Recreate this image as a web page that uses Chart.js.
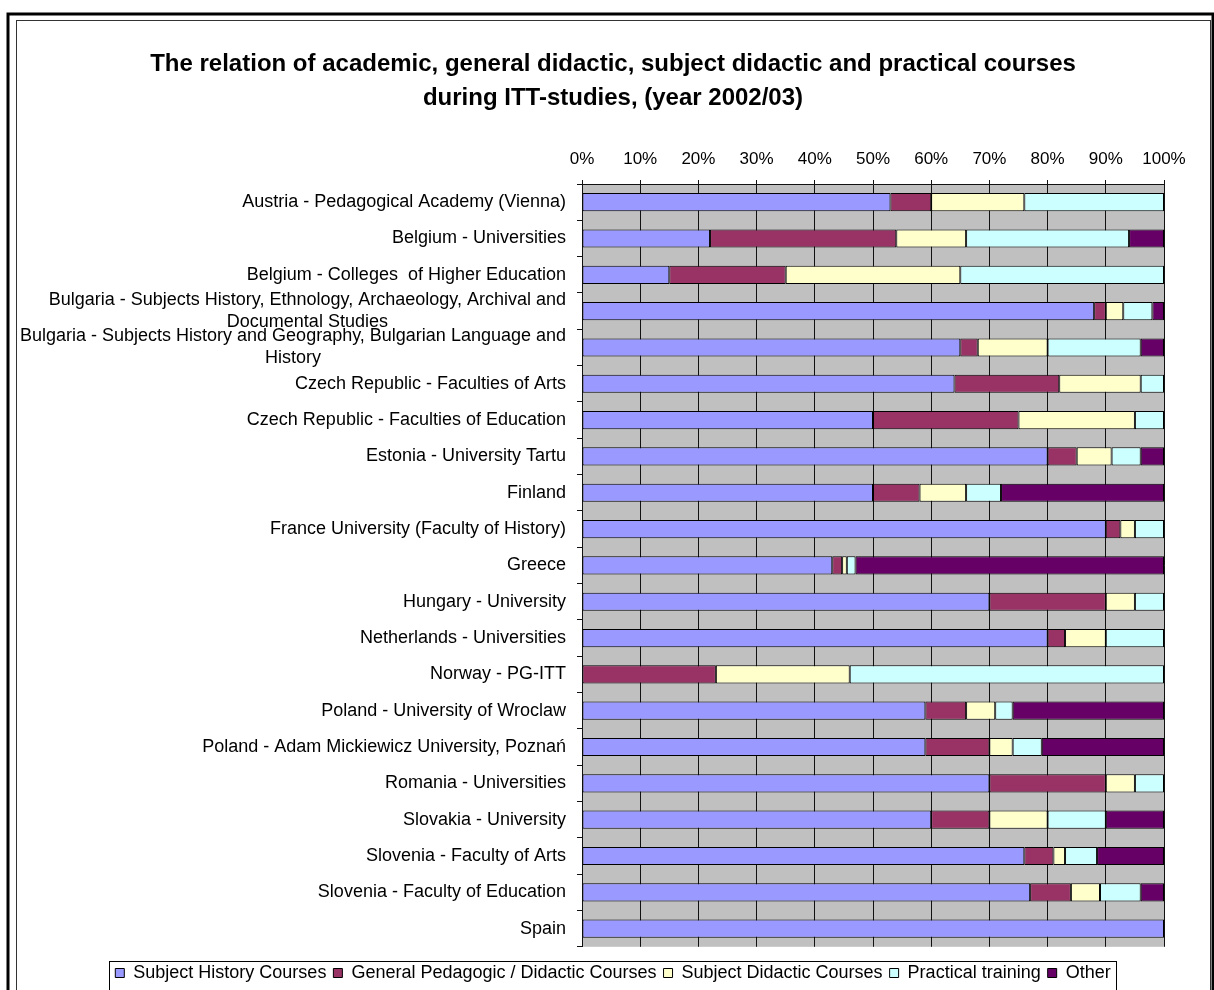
<!DOCTYPE html>
<html>
<head>
<meta charset="utf-8">
<script src="https://cdn.jsdelivr.net/npm/chart.js@4.4.1/dist/chart.umd.min.js"></script>
<style>
html,body{margin:0;padding:0;background:#fff;}
#wrap{width:1214px;height:990px;position:relative;}
</style>
</head>
<body>
<div id="wrap"><canvas id="c" width="1214" height="990"></canvas></div>
<script>
const titleLines = [
  'The relation of academic, general didactic, subject didactic and practical courses',
  'during ITT-studies, (year 2002/03)'
];
const categories = [
  'Austria - Pedagogical Academy (Vienna)',
  'Belgium - Universities',
  'Belgium - Colleges  of Higher Education',
  ['Bulgaria - Subjects History, Ethnology, Archaeology, Archival and', 'Documental Studies'],
  ['Bulgaria - Subjects History and Geography, Bulgarian Language and', 'History'],
  'Czech Republic - Faculties of Arts',
  'Czech Republic - Faculties of Education',
  'Estonia - University Tartu',
  'Finland',
  'France University (Faculty of History)',
  'Greece',
  'Hungary - University',
  'Netherlands - Universities',
  'Norway - PG-ITT',
  'Poland - University of Wroclaw',
  'Poland - Adam Mickiewicz University, Poznań',
  'Romania - Universities',
  'Slovakia - University',
  'Slovenia - Faculty of Arts',
  'Slovenia - Faculty of Education',
  'Spain'
];
const seriesNames = ['Subject History Courses', 'General Pedagogic / Didactic Courses', 'Subject Didactic Courses', 'Practical training', 'Other'];
const subjectHistory    = [53, 22, 15, 88, 65, 64, 50, 80, 50, 90,  43,  70, 80,  0, 59, 59, 70, 60, 76,   77, 100];
const generalPedagogic  = [ 7, 32, 20,  2,  3, 18, 25,  5,  8, 2.5, 1.7, 20,  3, 23,  7, 11, 20, 10,  5,    7,   0];
const subjectDidactic   = [16, 12, 30,  3, 12, 14, 20,  6,  8, 2.5, 0.8,  5,  7, 23,  5,  4,  5, 10,  2,    5,   0];
const practicalTraining = [24, 28, 35,  5, 16,  4,  5,  5,  6,  5,  1.5,  5, 10, 54,  3,  5,  5, 10,  5.5,  7,   0];
const other             = [ 0,  6,  0,  2,  4,  0,  0,  4, 28,  0,  53,   0,  0,  0, 26, 21,  0, 10, 11.5,  4,   0];
const percentTicks = [0, 10, 20, 30, 40, 50, 60, 70, 80, 90, 100];

const seriesValues = [subjectHistory, generalPedagogic, subjectDidactic, practicalTraining, other];
const seriesColors = ['#9999FF', '#993366', '#FFFFCC', '#CCFFFF', '#660066'];
const FONT = '"Liberation Sans", Arial, sans-serif';

const framePlugin = {
  id: 'frame',
  beforeDraw(chart) {
    const ctx = chart.ctx, a = chart.chartArea;
    ctx.save();
    ctx.fillStyle = '#fff';
    ctx.fillRect(0, 0, chart.width, chart.height);
    ctx.strokeStyle = '#000';
    ctx.lineWidth = 3;
    ctx.strokeRect(8, 14, 1205, 1000);
    ctx.lineWidth = 1;
    ctx.strokeStyle = '#333';
    ctx.strokeRect(16.5, 20.5, 1194, 1000);
    ctx.fillStyle = '#C0C0C0';
    ctx.fillRect(a.left, a.top, a.right - a.left, a.bottom - a.top);
    ctx.restore();
  },
  afterDraw(chart) {
    const ctx = chart.ctx;
    const yScale = chart.scales.y;
    ctx.save();
    ctx.font = '18px ' + FONT;
    ctx.fillStyle = '#000';
    ctx.textBaseline = 'middle';
    ctx.textAlign = 'center';
    const right = chart.chartArea.left - 16;
    categories.forEach((lab, i) => {
      const y = yScale.getPixelForValue(i);
      const lines = Array.isArray(lab) ? lab : [lab];
      const w = Math.max(...lines.map(l => ctx.measureText(l).width));
      const cx = right - w / 2;
      lines.forEach((l, k) => ctx.fillText(l, cx, y + (k - (lines.length - 1) / 2) * 22));
    });
    // legend border
    const hb = chart.legend.legendHitBoxes;
    if (hb && hb.length) {
      const l = Math.min(...hb.map(b => b.left));
      const r = Math.max(...hb.map(b => b.left + b.width));
      const t = Math.min(...hb.map(b => b.top));
      const bt = Math.max(...hb.map(b => b.top + b.height));
      const cy = (t + bt) / 2;
      ctx.strokeStyle = '#000';
      ctx.lineWidth = 1;
      ctx.strokeRect(Math.round(l - 6) + 0.5, Math.round(cy - 12) + 0.5, Math.round(r - l + 12), 29);
    }
    ctx.restore();
  }
};

new Chart(document.getElementById('c'), {
  type: 'bar',
  data: {
    labels: categories,
    datasets: seriesValues.map((vals, i) => ({
      label: seriesNames[i],
      data: vals,
      backgroundColor: seriesColors[i],
      borderColor: '#000',
      borderWidth: 1,
      borderSkipped: false,
      categoryPercentage: 1,
      barPercentage: 0.5
    }))
  },
  options: {
    indexAxis: 'y',
    responsive: false,
    animation: false,
    layout: { padding: { left: 62, right: 50, top: 20, bottom: -2 } },
    plugins: {
      tooltip: { enabled: false },
      title: {
        display: true,
        text: titleLines,
        color: '#000',
        font: { family: FONT, size: 24, weight: 'bold', lineHeight: 1.417 },
        padding: { top: 27, bottom: 8 }
      },
      legend: {
        position: 'bottom',
        title: { display: true, text: ' ', font: { size: 1 }, padding: { top: 9, bottom: 0 } },
        labels: {
          boxWidth: 9,
          boxHeight: 9,
          padding: 7,
          color: '#000',
          font: { family: FONT, size: 18 }
        }
      }
    },
    scales: {
      x: {
        position: 'top',
        stacked: true,
        min: 0,
        max: 100,
        afterBuildTicks(scale) { scale.ticks = percentTicks.map(v => ({ value: v })); },
        afterFit(scale) { scale.height = 61; },
        ticks: {
          padding: 11,
          color: '#000',
          font: { family: FONT, size: 17 },
          callback: v => v + '%'
        },
        grid: { color: '#111', lineWidth: 1, tickLength: 4, tickColor: '#111' },
        border: { display: true, color: '#111', width: 1 }
      },
      y: {
        stacked: true,
        afterFit(scale) { scale.width = 520; },
        ticks: { display: false },
        grid: { drawOnChartArea: false, drawTicks: true, tickLength: 5, color: '#111', offset: true },
        border: { display: true, color: '#111', width: 1 }
      }
    }
  },
  plugins: [framePlugin]
});
</script>
</body>
</html>
